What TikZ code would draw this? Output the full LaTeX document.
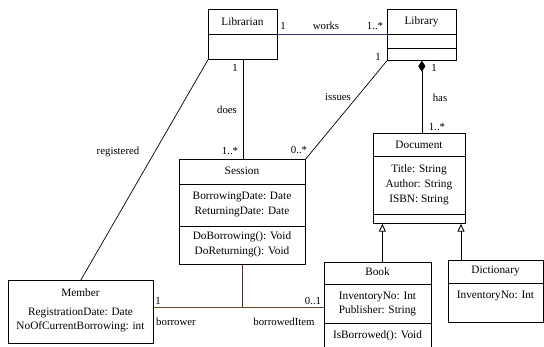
\documentclass[tikz,border=0pt]{standalone}
\usepackage{fontspec}
\setmainfont{Liberation Serif}
\usetikzlibrary{arrows.meta}
\definecolor{worksline}{RGB}{50,50,130}
\definecolor{borrowline}{RGB}{95,75,30}
\definecolor{linkline}{RGB}{110,40,40}
\begin{document}
\begin{tikzpicture}[x=1pt,y=-1pt,
  classbox/.style={draw, line width=0.7pt, inner sep=0pt, anchor=north west},
  txt/.style={font=\fontsize{11.3}{14.8}\selectfont, inner sep=0pt, align=center},
  lbl/.style={font=\fontsize{10.8}{12}\selectfont, inner sep=0pt},
  assoc/.style={line width=0.7pt},
  gen/.style={line width=0.9pt, -{Triangle[open,length=8pt,width=7pt]}},
  comp/.style={line width=0.7pt, {Diamond[length=11pt,width=7pt]}-}
]
\useasboundingbox (0,0) rectangle (544,346);

% class boxes
\node[classbox, minimum width=69pt, minimum height=50pt] (librarian) at (208,9) {};
\node[classbox, minimum width=69pt, minimum height=51pt] (library) at (387,9) {};
\node[classbox, minimum width=126pt, minimum height=105pt] (session) at (179,159) {};
\node[classbox, minimum width=92pt, minimum height=90pt] (document) at (373,133) {};
\node[classbox, minimum width=145pt, minimum height=63pt] (member) at (8,280) {};
\node[classbox, minimum width=107pt, minimum height=95pt] (book) at (324,262) {};
\node[classbox, minimum width=95pt, minimum height=62pt] (dictionary) at (448,260) {};

% compartment dividers
\draw[line width=0.7pt] (librarian.west |- 0,34) -- (librarian.east |- 0,34);
\draw[line width=0.7pt] (library.west |- 0,34) -- (library.east |- 0,34);
\draw[line width=0.7pt] (library.west |- 0,48) -- (library.east |- 0,48);
\draw[line width=0.7pt] (session.west |- 0,184) -- (session.east |- 0,184);
\draw[line width=0.7pt] (session.west |- 0,226) -- (session.east |- 0,226);
\draw[line width=0.7pt] (document.west |- 0,156) -- (document.east |- 0,156);
\draw[line width=0.7pt] (document.west |- 0,214) -- (document.east |- 0,214);
\draw[line width=0.7pt] (book.west |- 0,284) -- (book.east |- 0,284);
\draw[line width=0.7pt] (book.west |- 0,323) -- (book.east |- 0,323);
\draw[line width=0.7pt] (dictionary.west |- 0,283) -- (dictionary.east |- 0,283);

% class texts
\node[txt] (t-librarian) at (242.5,22) {Librarian};
\node[txt] (t-library) at (421.5,22) {Library};
\node[txt] (t-session) at (242,171) {Session};
\node[txt] (a-session) at (242,204.5) {BorrowingDate: Date\\ReturningDate: Date};
\node[txt] (m-session) at (242,244) {DoBorrowing(): Void\\DoReturning(): Void};
\node[txt] (t-document) at (419,145) {Document};
\node[txt] (a-document) at (419,184.5) {Title: String\\Author: String\\ISBN: String};
\node[txt] (t-member) at (80.5,293) {Member};
\node[txt] (a-member) at (80.5,320) {RegistrationDate: Date\\NoOfCurrentBorrowing: int};
\node[txt] (t-book) at (377.5,272) {Book};
\node[txt] (a-book) at (377.5,304) {InventoryNo: Int\\Publisher: String};
\node[txt] (m-book) at (377.5,336) {IsBorrowed(): Void};
\node[txt] (t-dictionary) at (495.5,271) {Dictionary};
\node[txt] (a-dictionary) at (495.5,296) {InventoryNo: Int};

% associations
\draw[assoc, worksline] (librarian.east |- 0,34) -- (library.west |- 0,34);
\node[lbl] at (283,26) {1};
\node[lbl] at (326,26) {works};
\node[lbl] at (375,26) {1..*};

\draw[assoc] (librarian.south) -- (librarian.south |- session.north);
\node[lbl] at (235,68) {1};
\node[lbl] at (227,110) {does};
\node[lbl] at (230,151) {1..*};

\draw[assoc] (library.south west) -- (session.north east);
\node[lbl] at (378,57) {1};
\node[lbl] at (338,97) {issues};
\node[lbl] at (299,150) {0..*};

\draw[comp] (library.south) -- (library.south |- document.north);
\node[lbl] at (434,68) {1};
\node[lbl] at (440,98) {has};
\node[lbl] at (437,127) {1..*};

\draw[assoc] (member.north) -- (librarian.south west);
\node[lbl] at (118,152) {registered};

\draw[assoc, borrowline] ([yshift=4.5pt]member.east) coordinate (mb-start)
  -- ([yshift=4.5pt]member.east -| book.west) coordinate (mb-end);
\node[lbl] at (158,301) {1};
\node[lbl] at (176,322) {borrower};
\node[lbl] at (313,301) {0..1};
\node[lbl] at (284,322) {borrowedItem};

\coordinate (link) at (session.south |- mb-start);
\draw[assoc, linkline] (session.south) -- (link);

% generalizations
\draw[gen] ([xshift=4.5pt]book.north) -- ([xshift=4.5pt]book.north |- document.south);
\draw[gen] ([xshift=13pt]dictionary.north west) -- ([xshift=13pt]dictionary.north west |- document.south);
\end{tikzpicture}
\end{document}
